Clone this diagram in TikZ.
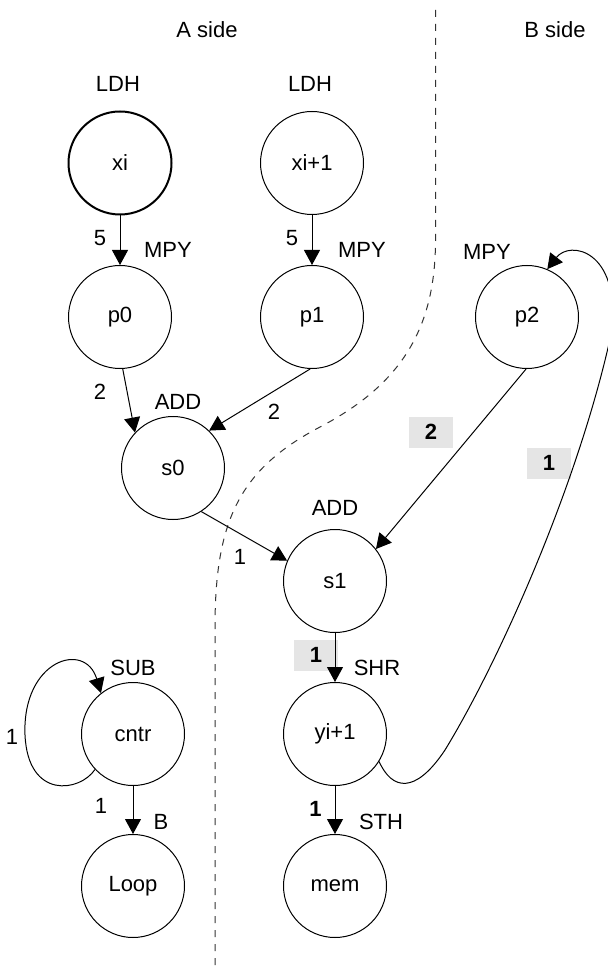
\documentclass[tikz,border=0pt]{standalone}
\usepackage{fontspec}
\setmainfont{Liberation Sans}
\usetikzlibrary{arrows.meta}
\newcommand\labfont{\fontsize{11}{13}\selectfont}
\tikzset{op/.style={circle,draw,line width=0.5pt,minimum size=51.5pt,inner sep=0pt},
    unit/.style={inner sep=0pt},
    lat/.style={inner sep=0pt},
    hot/.style={fill=black!10,minimum width=22pt,minimum height=15.5pt,inner sep=0pt,font=\labfont\bfseries},
    hotlat/.style={inner sep=0pt,font=\labfont\bfseries},
    dep/.style={line width=0.5pt,-{Triangle[width=8pt,length=7.5pt]}},
    }

\begin{document}
\begin{tikzpicture}[x=0.5pt,y=-0.5pt,font=\labfont]
\useasboundingbox (0,0) rectangle (607,967);
\node[unit] (aside) at (207,30) {A side};
\node[unit] (bside) at (555,30) {B side};
\draw[black!80,line width=0.5pt,dash pattern=on 3.5pt off 3.5pt]
    (435.5,10) -- (435.5,240) .. controls (435.5,330) and (400,385) .. (320,427)
    .. controls (240,469) and (215,520) .. (215,627) -- (215,967);%split
% nodes
\node[op,line width=1pt] (xi) at (120,163) {xi};
\node[op] (xii) at (312,163) {xi+1};
\node[op] (p0) at (120,317) {p0};
\node[op] (p1) at (312,317) {p1};
\node[op] (p2) at (527,317) {p2};
\node[op] (s0) at (173,468) {s0};
\node[op] (s1) at (335,581) {s1};
\node[op] (cntr) at (133,734) {cntr};
\node[op] (yi) at (335,734) {yi+1};
\node[op] (loop) at (133,886) {Loop};
\node[op] (mem) at (335,886) {mem};
% units
\node[unit] (ldh0) at (118,84) {LDH};
\node[unit] (ldh1) at (310,84) {LDH};
\node[unit] (mpy0) at (168,250) {MPY};
\node[unit] (mpy1) at (362,250) {MPY};
\node[unit] (mpy2) at (487,252) {MPY};
\node[unit] (add0) at (178,402) {ADD};
\node[unit] (add1) at (335,508) {ADD};
\node[unit] (sub) at (133,668) {SUB};
\node[unit] (shr) at (377,668) {SHR};
\node[unit] (br) at (161,822) {B};
\node[unit] (sth) at (381,822) {STH};
% latencies
\node[hot] (h2) at (431,432) {2};
\node[hot] (h1) at (549,463) {1};
\node[hot] (h1s) at (316,655) {1};
\node[lat] (l5a) at (100,238) {5};
\node[lat] (l5b) at (292,238) {5};
\node[lat] (l2a) at (100,392) {2};
\node[lat] (l2b) at (274,412) {2};
\node[lat] (l1a) at (240,557) {1};
\node[lat] (l1b) at (12,737) {1};
\node[lat] (l1c) at (101,806) {1};
\node[hotlat] (l1d) at (315.5,809) {1};
% edges
\draw[dep] (xi) -- (p0);
\draw[dep] (xii) -- (p1);
\draw[dep] (p0.-87) -- (s0.137);
\draw[dep] (p1.-92) -- (s0.46);
\draw[dep] (s0.-57) -- (s1.157);
\draw[dep] (p2.-91) -- (s1.38);
\draw[dep] (s1) -- (yi);
\draw[dep] (yi) -- (mem);
\draw[dep] (cntr) -- (loop);
\draw[dep] (cntr.223) .. controls (80,792) and (28,800) .. (25,735)
    .. controls (22,660) and (85,640) .. (cntr.128);%self
\draw[dep] (yi.-32) .. controls (392,790) and (415,795) .. (445,750)
    .. controls (500,660) and (580,480) .. (612,330)
    .. controls (620,250) and (570,240) .. (p2.67);%back to p2
\end{tikzpicture}
\end{document}
